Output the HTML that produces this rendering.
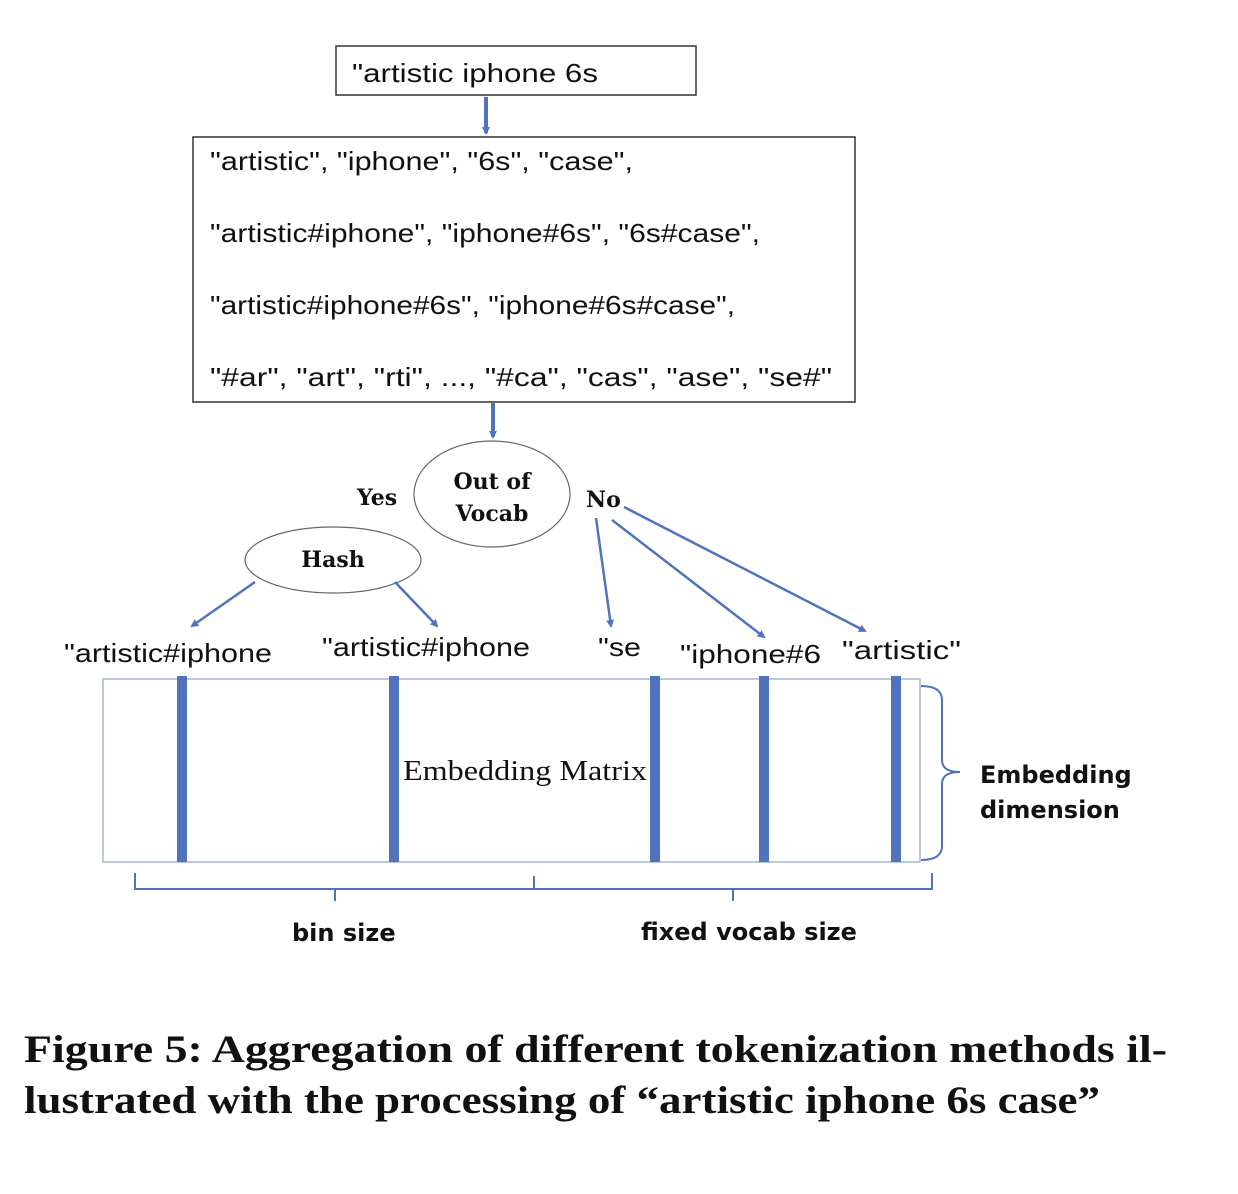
<!DOCTYPE html>
<html><head><meta charset="utf-8"><style>
html,body{margin:0;padding:0;background:#fff;}
svg{display:block;}
.s{font-family:"Liberation Sans",sans-serif;font-size:26px;fill:#111;}
.b{font-family:"DejaVu Serif","Liberation Serif",serif;font-weight:bold;font-size:22px;fill:#111;}
.bs{font-family:"DejaVu Sans","Liberation Sans",sans-serif;font-weight:bold;font-size:24px;fill:#111;}
.cap{font-family:"Liberation Serif",serif;font-weight:bold;font-size:39px;fill:#111;}
</style></head><body>
<svg width="1238" height="1194" viewBox="0 0 1238 1194">
<defs><marker id="ah" markerWidth="8" markerHeight="8" refX="6" refY="4" orient="auto" markerUnits="userSpaceOnUse"><path d="M0,0 L8,4 L0,8 z" fill="#4f74bd"/></marker></defs>
<g>
<rect x="336" y="46" width="360" height="49" fill="#fff" stroke="#333" stroke-width="1.5"/>
<text class="s" x="352" y="82" textLength="246" lengthAdjust="spacingAndGlyphs">"artistic iphone 6s</text></g>
<line x1="486" y1="97" x2="486" y2="133" stroke="#4f74bd" stroke-width="4" marker-end="url(#ah)"/>
<g>
<rect x="193" y="137" width="662" height="265" fill="#fff" stroke="#333" stroke-width="1.5"/>
<text class="s" x="210" y="170" textLength="423" lengthAdjust="spacingAndGlyphs">"artistic", "iphone", "6s", "case",</text>
<text class="s" x="210" y="242" textLength="550" lengthAdjust="spacingAndGlyphs">"artistic#iphone", "iphone#6s", "6s#case",</text>
<text class="s" x="210" y="314" textLength="525" lengthAdjust="spacingAndGlyphs">"artistic#iphone#6s", "iphone#6s#case",</text>
<text class="s" x="210" y="386" textLength="622" lengthAdjust="spacingAndGlyphs">"#ar", "art", "rti", ..., "#ca", "cas", "ase", "se#"</text></g>
<line x1="493" y1="403" x2="493" y2="437" stroke="#4f74bd" stroke-width="4" marker-end="url(#ah)"/>
<g>
<ellipse cx="492" cy="494" rx="78" ry="53" fill="#fff" stroke="#666" stroke-width="1.2"/>
<text class="b" x="492" y="489" text-anchor="middle">Out of</text>
<text class="b" x="492" y="521" text-anchor="middle">Vocab</text></g>
<text class="b" x="357" y="505">Yes</text>
<text class="b" x="586" y="507">No</text>
<g>
<ellipse cx="333" cy="560" rx="88" ry="33" fill="#fff" stroke="#666" stroke-width="1.2"/>
<text class="b" x="333" y="567" text-anchor="middle">Hash</text></g>
<g stroke="#4f74bd" stroke-width="2.5" marker-end="url(#ah)">
<line x1="255" y1="582" x2="192" y2="626"/>
<line x1="395" y1="582" x2="437" y2="626"/>
<line x1="596" y1="518" x2="611" y2="626"/>
<line x1="612" y1="520" x2="764" y2="637"/>
<line x1="624" y1="507" x2="865" y2="631"/>
</g>
<g>
<text class="s" x="64" y="662" textLength="208" lengthAdjust="spacingAndGlyphs">"artistic#iphone</text>
<text class="s" x="322" y="656" textLength="208" lengthAdjust="spacingAndGlyphs">"artistic#iphone</text>
<text class="s" x="598" y="656" textLength="43" lengthAdjust="spacingAndGlyphs">"se</text>
<text class="s" x="680" y="663" textLength="141" lengthAdjust="spacingAndGlyphs">"iphone#6</text>
<text class="s" x="842" y="659" textLength="119" lengthAdjust="spacingAndGlyphs">"artistic"</text></g>
<g>
<rect x="103" y="679" width="817" height="183" fill="#fff" stroke="#a9b6d0" stroke-width="1.5"/>
<g fill="#4f74bd">
<rect x="177" y="676" width="10" height="186"/>
<rect x="389" y="676" width="10" height="186"/>
<rect x="650" y="676" width="10" height="186"/>
<rect x="759" y="676" width="10" height="186"/>
<rect x="891" y="676" width="10" height="186"/></g>
<text x="403" y="780" textLength="244" lengthAdjust="spacingAndGlyphs" style="font-family:'Liberation Serif',serif;font-size:29px;fill:#111">Embedding Matrix</text></g>
<g fill="none" stroke="#4f74bd" stroke-width="2">
<path d="M921,686 Q942,686 942,700 L942,760 Q942,772 960,772 Q942,772 942,784 L942,846 Q942,860 921,860"/></g>
<text class="bs" x="980" y="783">Embedding</text>
<text class="bs" x="980" y="818">dimension</text>
<g fill="none" stroke="#4f74bd" stroke-width="2">
<path d="M135,873 L135,889 L932,889 L932,873 M335,889 L335,901 M733,889 L733,901 M534,889 L534,876"/></g>
<text class="bs" x="292" y="941">bin size</text>
<text class="bs" x="641" y="940">fixed vocab size</text>
<g>
<text class="cap" x="24" y="1062" textLength="1143" lengthAdjust="spacingAndGlyphs">Figure 5: Aggregation of different tokenization methods il-</text>
<text class="cap" x="24" y="1113" textLength="1076" lengthAdjust="spacingAndGlyphs">lustrated with the processing of “artistic iphone 6s case”</text></g>
</svg>
</body></html>
